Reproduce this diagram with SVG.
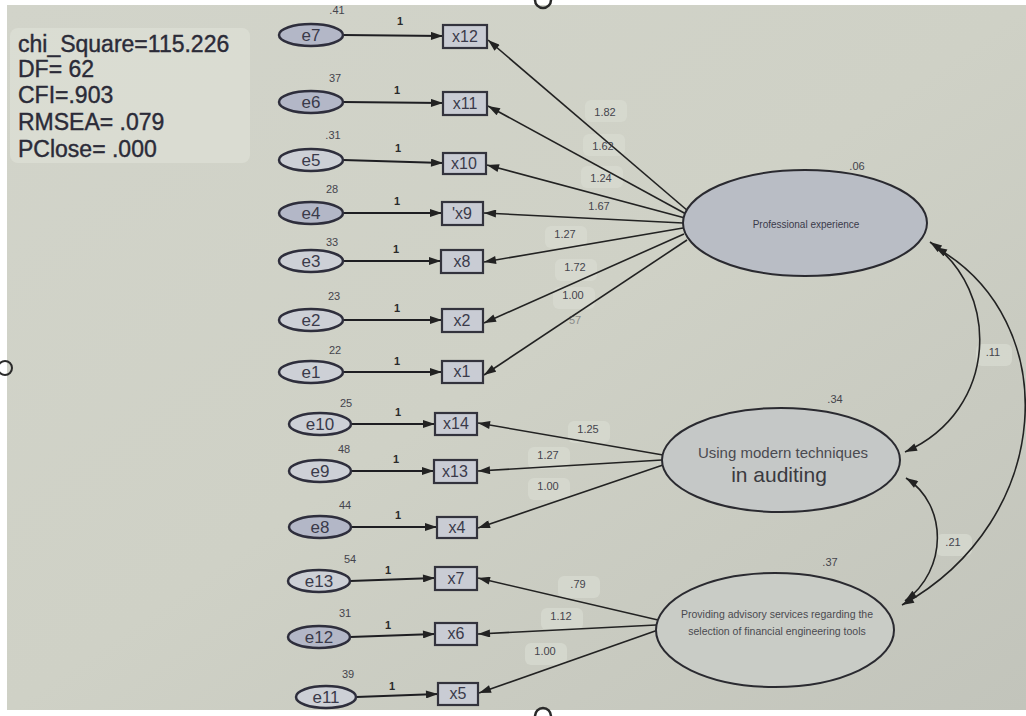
<svg xmlns="http://www.w3.org/2000/svg" width="1026" height="716" viewBox="0 0 1026 716">
<defs>
<linearGradient id="bg" x1="0" y1="0" x2="1" y2="1">
<stop offset="0" stop-color="#d2d4ca"/>
<stop offset="0.5" stop-color="#cfd1c6"/>
<stop offset="1" stop-color="#c2c4bb"/>
</linearGradient>
<marker id="ah" viewBox="0 0 12 8" refX="12" refY="4" markerWidth="13" markerHeight="8" markerUnits="userSpaceOnUse" orient="auto-start-reverse">
<path d="M0,0 L12,4 L0,8 z" fill="#222"/>
</marker>
<style>
.err{stroke:#2e2e3c;stroke-width:2.5}
.dk{fill:#b3b7c7}
.lt{fill:#cdd0d6}
.obs{fill:#c9ccd4;stroke:#33333d;stroke-width:2.2}
.lat{stroke:#2a2a30;stroke-width:2}
.t{font-family:"Liberation Sans",Arial,sans-serif;fill:#3a3a4a;text-anchor:middle}
.en{font-size:17px}
.on{font-size:16px}
.sm{font-size:11px;fill:#44444c}
.one{font-size:11px;fill:#2a2a2a;font-weight:bold}
.stat{font-family:"Liberation Sans",Arial,sans-serif;font-size:23px;fill:#2b2b38;stroke:#2b2b38;stroke-width:0.4}
.e{stroke:#1e1e22;stroke-width:2;fill:none}
.l{stroke:#222;stroke-width:1.6;fill:none}
.glow{fill:#dcded5;opacity:0.8}
.sg{fill:#d9dbd2;opacity:0.7}
</style>
</defs>
<rect x="0" y="0" width="1026" height="716" fill="#ffffff"/>
<rect x="7" y="5" width="1019" height="705" fill="url(#bg)"/>
<circle cx="543" cy="0" r="8" fill="none" stroke="#2a2a2a" stroke-width="2.5"/>
<circle cx="5" cy="368" r="7" fill="none" stroke="#2a2a2a" stroke-width="2"/>
<circle cx="543" cy="716" r="8" fill="none" stroke="#2a2a2a" stroke-width="2.5"/>

<g id="fit-stats">
<rect class="glow" x="10" y="28" width="240" height="135" rx="8"/>
<text class="stat" x="18" y="52">chi_Square=115.226</text>
<text class="stat" x="18" y="77">DF= 62</text>
<text class="stat" x="18" y="103">CFI=.903</text>
<text class="stat" x="18" y="130">RMSEA= .079</text>
<text class="stat" x="18" y="157">PClose= .000</text>
</g>

<g id="connectors">
<rect class="sg" x="585" y="100" width="42" height="22" rx="6"/>
<rect class="sg" x="583" y="134" width="42" height="22" rx="6"/>
<rect class="sg" x="581" y="166" width="42" height="22" rx="6"/>
<rect class="sg" x="545" y="226" width="42" height="22" rx="6"/>
<rect class="sg" x="555" y="259" width="42" height="22" rx="6"/>
<rect class="sg" x="553" y="287" width="42" height="22" rx="6"/>
<rect class="sg" x="568" y="421" width="42" height="22" rx="6"/>
<rect class="sg" x="528" y="447" width="42" height="22" rx="6"/>
<rect class="sg" x="528" y="478" width="42" height="22" rx="6"/>
<rect class="sg" x="558" y="576" width="42" height="22" rx="6"/>
<rect class="sg" x="541" y="608" width="42" height="22" rx="6"/>
<rect class="sg" x="525" y="643" width="42" height="22" rx="6"/>
<rect class="sg" x="976" y="344" width="36" height="22" rx="6"/>
<rect class="sg" x="936" y="534" width="36" height="22" rx="6"/>

<line class="e" x1="343" y1="35" x2="443" y2="36" marker-end="url(#ah)"/>
<line class="e" x1="343" y1="102" x2="443" y2="103" marker-end="url(#ah)"/>
<line class="e" x1="343" y1="160" x2="443" y2="163" marker-end="url(#ah)"/>
<line class="e" x1="343" y1="213" x2="442" y2="213" marker-end="url(#ah)"/>
<line class="e" x1="343" y1="261" x2="441" y2="261" marker-end="url(#ah)"/>
<line class="e" x1="343" y1="320" x2="442" y2="320" marker-end="url(#ah)"/>
<line class="e" x1="343" y1="372" x2="442" y2="372" marker-end="url(#ah)"/>
<line class="e" x1="351" y1="424" x2="435" y2="424" marker-end="url(#ah)"/>
<line class="e" x1="351" y1="471" x2="434" y2="471" marker-end="url(#ah)"/>
<line class="e" x1="351" y1="527" x2="437" y2="527" marker-end="url(#ah)"/>
<line class="e" x1="350" y1="581" x2="435" y2="578" marker-end="url(#ah)"/>
<line class="e" x1="350" y1="637" x2="435" y2="634" marker-end="url(#ah)"/>
<line class="e" x1="356" y1="697" x2="438" y2="694" marker-end="url(#ah)"/>

<line class="l" x1="688" y1="211" x2="488" y2="40" marker-end="url(#ah)"/>
<line class="l" x1="686" y1="214" x2="488" y2="106" marker-end="url(#ah)"/>
<line class="l" x1="685" y1="218" x2="487" y2="165" marker-end="url(#ah)"/>
<line class="l" x1="683" y1="223" x2="484" y2="213" marker-end="url(#ah)"/>
<line class="l" x1="683" y1="228" x2="484" y2="262" marker-end="url(#ah)"/>
<line class="l" x1="684" y1="234" x2="484" y2="323" marker-end="url(#ah)"/>
<line class="l" x1="687" y1="240" x2="484" y2="375" marker-end="url(#ah)"/>

<line class="l" x1="663" y1="455" x2="478" y2="423" marker-end="url(#ah)"/>
<line class="l" x1="662" y1="460" x2="478" y2="471" marker-end="url(#ah)"/>
<line class="l" x1="663" y1="465" x2="478" y2="528" marker-end="url(#ah)"/>

<line class="l" x1="658" y1="620" x2="478" y2="578" marker-end="url(#ah)"/>
<line class="l" x1="656" y1="625" x2="478" y2="634" marker-end="url(#ah)"/>
<line class="l" x1="658" y1="630" x2="479" y2="693" marker-end="url(#ah)"/>

<path class="l" d="M930,242 C1000,290 1000,410 905,452" marker-start="url(#ah)" marker-end="url(#ah)"/>
<path class="l" d="M935,247 C1065,320 1055,520 902,605" marker-start="url(#ah)" marker-end="url(#ah)"/>
<path class="l" d="M906,478 C948,505 948,570 905,601" marker-start="url(#ah)" marker-end="url(#ah)"/>

<g class="t sm">
<text x="605" y="116">1.82</text>
<text x="603" y="150">1.62</text>
<text x="601" y="182">1.24</text>
<text x="599" y="210">1.67</text>
<text x="565" y="238">1.27</text>
<text x="575" y="271">1.72</text>
<text x="573" y="299">1.00</text>
<text x="575" y="324" opacity="0.5">57</text>
<text x="588" y="433">1.25</text>
<text x="548" y="459">1.27</text>
<text x="548" y="490">1.00</text>
<text x="578" y="588">.79</text>
<text x="561" y="620">1.12</text>
<text x="545" y="655">1.00</text>
<text x="993" y="356">.11</text>
<text x="953" y="546">.21</text>
</g>
<g class="t one">
<text x="400" y="25">1</text>
<text x="397" y="94">1</text>
<text x="398" y="152">1</text>
<text x="397" y="205">1</text>
<text x="396" y="253">1</text>
<text x="397" y="312">1</text>
<text x="397" y="365">1</text>
<text x="398" y="416">1</text>
<text x="396" y="463">1</text>
<text x="398" y="519">1</text>
<text x="388" y="574">1</text>
<text x="388" y="629">1</text>
<text x="392" y="690">1</text>
</g>
</g>

<g id="e7"><ellipse class="err dk" cx="311" cy="35" rx="32" ry="11"/><text class="t en" x="311" y="41">e7</text><text class="t sm" x="337" y="14">.41</text></g>
<g id="e6"><ellipse class="err dk" cx="311" cy="102" rx="32" ry="11"/><text class="t en" x="311" y="108">e6</text><text class="t sm" x="335" y="82">37</text></g>
<g id="e5"><ellipse class="err lt" cx="311" cy="160" rx="32" ry="11"/><text class="t en" x="311" y="166">e5</text><text class="t sm" x="333" y="139">.31</text></g>
<g id="e4"><ellipse class="err dk" cx="311" cy="213" rx="32" ry="11"/><text class="t en" x="311" y="219">e4</text><text class="t sm" x="332" y="193">28</text></g>
<g id="e3"><ellipse class="err lt" cx="311" cy="261" rx="32" ry="11"/><text class="t en" x="311" y="267">e3</text><text class="t sm" x="332" y="246">33</text></g>
<g id="e2"><ellipse class="err lt" cx="311" cy="320" rx="32" ry="11"/><text class="t en" x="311" y="326">e2</text><text class="t sm" x="334" y="300">23</text></g>
<g id="e1"><ellipse class="err lt" cx="311" cy="372" rx="32" ry="11"/><text class="t en" x="311" y="378">e1</text><text class="t sm" x="335" y="354">22</text></g>
<g id="e10"><ellipse class="err lt" cx="320" cy="424" rx="31" ry="11"/><text class="t en" x="320" y="430">e10</text><text class="t sm" x="346" y="407">25</text></g>
<g id="e9"><ellipse class="err lt" cx="320" cy="471" rx="31" ry="11"/><text class="t en" x="320" y="477">e9</text><text class="t sm" x="344" y="453">48</text></g>
<g id="e8"><ellipse class="err dk" cx="320" cy="527" rx="31" ry="11"/><text class="t en" x="320" y="533">e8</text><text class="t sm" x="345" y="509">44</text></g>
<g id="e13"><ellipse class="err lt" cx="319" cy="581" rx="31" ry="11"/><text class="t en" x="319" y="587">e13</text><text class="t sm" x="350" y="563">54</text></g>
<g id="e12"><ellipse class="err dk" cx="319" cy="637" rx="31" ry="11"/><text class="t en" x="319" y="643">e12</text><text class="t sm" x="345" y="617">31</text></g>
<g id="e11"><ellipse class="err lt" cx="326" cy="697" rx="30" ry="11"/><text class="t en" x="326" y="703">e11</text><text class="t sm" x="348" y="678">39</text></g>

<g id="x12"><rect class="obs" x="443" y="25" width="44" height="23"/><text class="t on" x="465" y="42">x12</text></g>
<g id="x11"><rect class="obs" x="443" y="92" width="44" height="23"/><text class="t on" x="465" y="109">x11</text></g>
<g id="x10"><rect class="obs" x="443" y="153" width="43" height="21"/><text class="t on" x="464" y="169">x10</text></g>
<g id="x9"><rect class="obs" x="442" y="202" width="41" height="23"/><text class="t on" x="462" y="219">'x9</text></g>
<g id="x8"><rect class="obs" x="441" y="250" width="42" height="23"/><text class="t on" x="462" y="267">x8</text></g>
<g id="x2"><rect class="obs" x="442" y="309" width="41" height="23"/><text class="t on" x="462" y="326">x2</text></g>
<g id="x1"><rect class="obs" x="442" y="361" width="41" height="22"/><text class="t on" x="462" y="377">x1</text></g>
<g id="x14"><rect class="obs" x="435" y="413" width="42" height="22"/><text class="t on" x="456" y="429">x14</text></g>
<g id="x13"><rect class="obs" x="434" y="460" width="43" height="23"/><text class="t on" x="455" y="477">x13</text></g>
<g id="x4"><rect class="obs" x="437" y="517" width="40" height="21"/><text class="t on" x="457" y="533">x4</text></g>
<g id="x7"><rect class="obs" x="435" y="567" width="42" height="23"/><text class="t on" x="456" y="584">x7</text></g>
<g id="x6"><rect class="obs" x="435" y="623" width="42" height="22"/><text class="t on" x="456" y="639">x6</text></g>
<g id="x5"><rect class="obs" x="438" y="683" width="40" height="22"/><text class="t on" x="458" y="699">x5</text></g>

<g id="professional-experience">
<ellipse class="lat" cx="805" cy="223" rx="122" ry="53" fill="#b9bdc5"/>
<text class="t" x="806" y="228" style="font-size:10px">Professional experience</text>
<text class="t sm" x="857" y="170">.06</text>
</g>
<g id="modern-techniques">
<ellipse class="lat" cx="781" cy="460" rx="119" ry="52" fill="#c5c8c7"/>
<text class="t" x="783" y="458" style="font-size:15px;fill:#4a4a50">Using modern techniques</text>
<text class="t" x="779" y="482" style="font-size:21px;fill:#3a3a40">in auditing</text>
<text class="t sm" x="835" y="403">.34</text>
</g>
<g id="advisory-services">
<ellipse class="lat" cx="775" cy="630" rx="119" ry="57" fill="#c9ccc6"/>
<text class="t" x="777" y="618" style="font-size:10.5px;fill:#4a4a50">Providing advisory services regarding the</text>
<text class="t" x="777" y="635" style="font-size:10.5px;fill:#4a4a50">selection of financial engineering tools</text>
<text class="t sm" x="830" y="566">.37</text>
</g>
</svg>
